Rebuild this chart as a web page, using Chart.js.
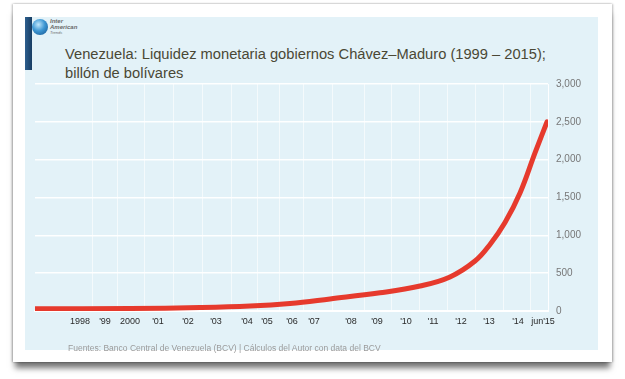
<!DOCTYPE html>
<html>
<head>
<meta charset="utf-8">
<script src="https://cdn.jsdelivr.net/npm/chart.js@4.4.1/dist/chart.umd.min.js"></script>
<style>
  html, body { margin: 0; padding: 0; background: #fff; }
  body { width: 625px; height: 379px; position: relative; overflow: hidden; font-family: "Liberation Sans", Arial, sans-serif; }
  #card { position: absolute; left: 13px; top: 4px; width: 599px; height: 358px; background: #fff;
          box-shadow: -1px 0 2px rgba(0,0,0,0.25), 1px 0 2px rgba(0,0,0,0.25), 0 8px 6px -2px rgba(0,0,0,0.55); }
  #panel { position: absolute; left: 25px; top: 17px; width: 573px; height: 333px; background: #e3f2f8; }
  #bar { position: absolute; left: 25px; top: 17px; width: 7px; height: 53px; background: linear-gradient(90deg, #2d5f8e, #173d63); }
  #globe { position: absolute; left: 32px; top: 19px; width: 16px; height: 16px; border-radius: 50%;
           background: radial-gradient(circle at 40% 35%, #bfe6fb 0%, #3d97d3 45%, #0f4f8a 100%); }
  #brand { position: absolute; left: 50px; top: 18px; font-size: 6px; line-height: 6px; font-style: italic; font-weight: bold; color: #6a6a6a; }
  #brand span { display: block; }
  #brand .small { font-size: 4px; line-height: 5px; font-weight: normal; }
  #title { position: absolute; left: 65px; top: 45px; font-size: 14.7px; line-height: 19px; color: #4a4835; white-space: nowrap; }
  #source { position: absolute; left: 68px; top: 343px; font-size: 8.5px; color: #9a9a9a; white-space: nowrap; }
  canvas { position: absolute; left: 0; top: 0; }
</style>
</head>
<body>
<div id="card"></div>
<div id="panel"></div>
<div id="bar"></div>
<div id="globe"></div>
<div id="brand"><span>Inter</span><span>American</span><span class="small">Trends</span></div>
<div id="title">Venezuela: Liquidez monetaria gobiernos Chávez–Maduro (1999 – 2015);<br>billón de bolívares</div>
<canvas id="chart" width="625" height="379"></canvas>
<div id="source">Fuentes: Banco Central de Venezuela (BCV) | Cálculos del Autor con data del BCV</div>

<script>
// ---------- Data ---------- //
// x axis labels and where they sit along the (irregular) time axis
const yearLabels = ['1998', "'99", '2000', "'01", "'02", "'03", "'04", "'05", "'06", "'07",
                    "'08", "'09", "'10", "'11", "'12", "'13", "'14", "jun'15"];
const labelPos = [45, 70, 95, 123, 153, 181, 212, 232, 257, 279, 316, 342, 371, 398, 426, 454, 483, 508];

// Liquidez monetaria, billón de bolívares
const dataPos = [0, 95, 165, 215, 255, 295, 345, 385, 415, 440, 455, 470, 485, 500, 512];
const liquidez = [30, 33, 45, 65, 100, 160, 240, 330, 450, 660, 880, 1170, 1560, 2090, 2500];

const yTicks = [0, 500, 1000, 1500, 2000, 2500, 3000];

// grid lines sit between labels
const gridPos = labelPos.slice(1).map((p, i) => (p + labelPos[i]) / 2);

// ---------- Chart ---------- //
const ctx = document.getElementById('chart').getContext('2d');

new Chart(ctx, {
  type: 'line',
  data: {
    datasets: [{
      data: dataPos.map((x, i) => ({ x: x, y: liquidez[i] })),
      borderColor: '#e63a2d',
      borderWidth: 5,
      pointRadius: 0,
      fill: false,
      tension: 0.4,
      borderCapStyle: 'round'
    }]
  },
  options: {
    responsive: false,
    devicePixelRatio: 1,
    animation: false,
    layout: { padding: { left: 35, top: 84, right: 0, bottom: 0 } },
    plugins: { legend: { display: false }, tooltip: { enabled: false } },
    scales: {
      x: {
        type: 'linear',
        min: 0,
        max: 513,
        afterBuildTicks: (scale) => {
          scale.ticks = labelPos.map(v => ({ value: v })).concat(gridPos.map(v => ({ value: v })));
        },
        afterFit: (scale) => { scale.height = 68; },
        grid: {
          color: (c) => (c.tick && gridPos.includes(c.tick.value)) ? 'rgba(255,255,255,0.6)' : 'rgba(0,0,0,0)',
          lineWidth: 1,
          drawTicks: false
        },
        border: { color: '#ffffff', width: 2 },
        ticks: {
          autoSkip: false,
          maxRotation: 0,
          padding: 5,
          color: '#2a2a2a',
          font: { family: 'Liberation Sans', size: 9 },
          callback: (v) => {
            const i = labelPos.indexOf(v);
            return i >= 0 ? yearLabels[i] : '';
          }
        }
      },
      y: {
        position: 'right',
        min: 0,
        max: 3000,
        afterBuildTicks: (scale) => { scale.ticks = yTicks.map(v => ({ value: v })); },
        afterFit: (scale) => { scale.width = 77; },
        grid: { color: 'rgba(255,255,255,0.95)', lineWidth: 1.5, drawTicks: false },
        border: { color: 'rgba(255,255,255,0.9)', width: 1 },
        ticks: {
          padding: 8,
          color: '#777777',
          font: { family: 'Liberation Sans', size: 10 },
          callback: (v) => v.toLocaleString('en-US')
        }
      }
    }
  }
});
</script>
</body>
</html>
